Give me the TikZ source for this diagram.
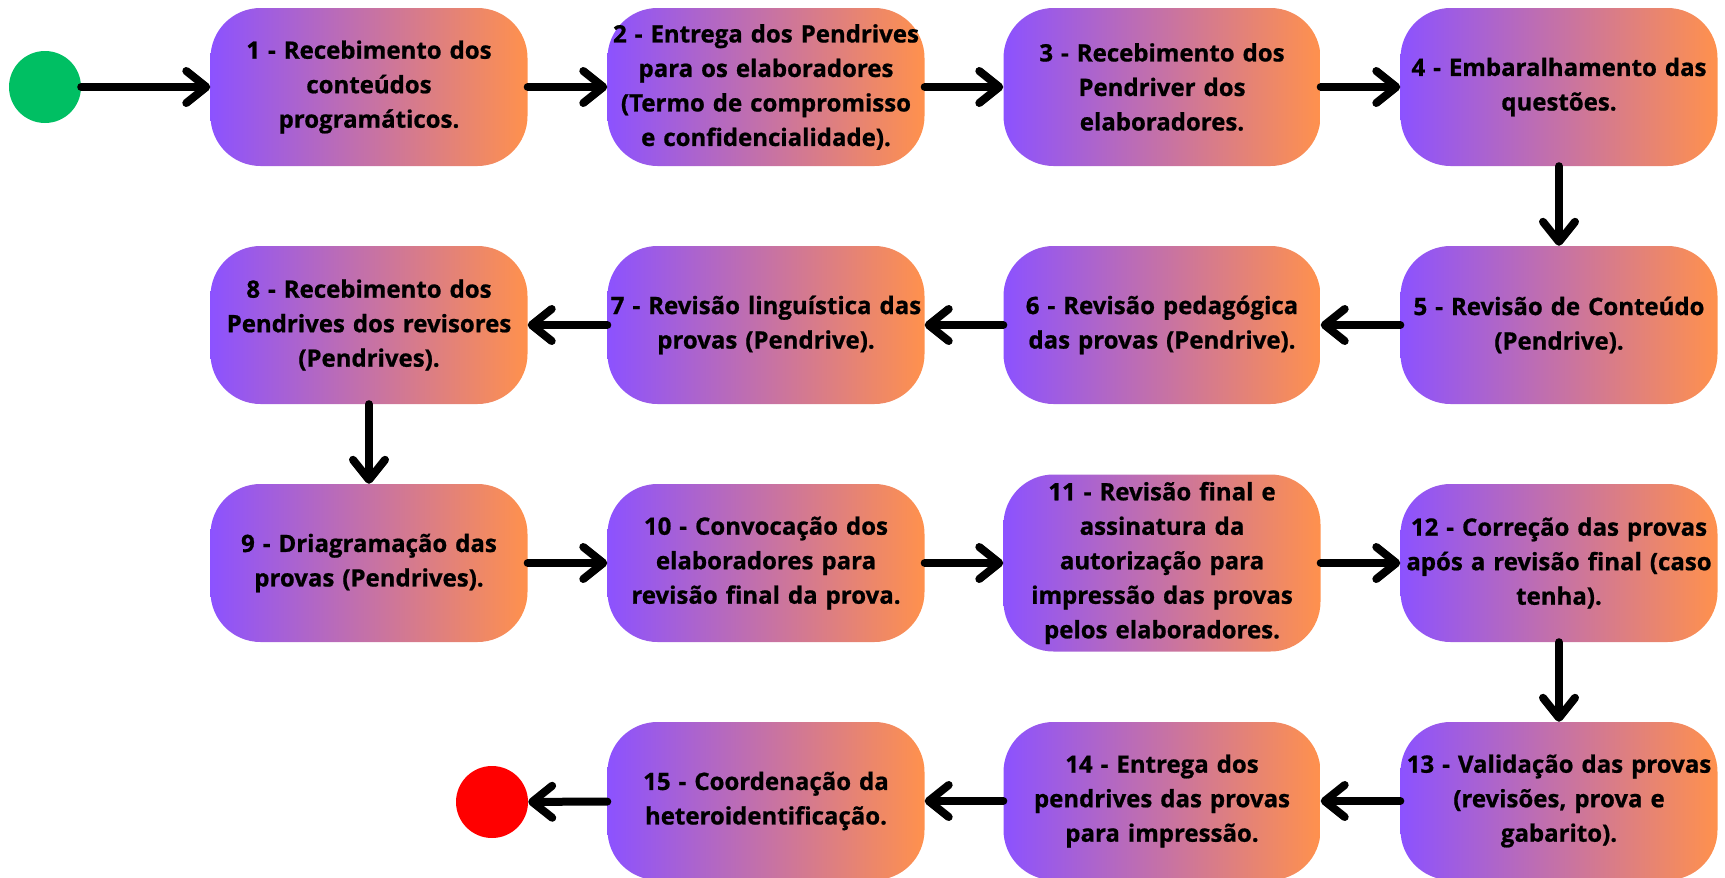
\documentclass[tikz,border=0pt]{standalone}
\usepackage{fontspec}
\setmainfont{Open Sans}[BoldFeatures={FakeBold=0.8}]
\usetikzlibrary{arrows.meta}
\definecolor{purp}{HTML}{8C52FF}
\definecolor{orng}{HTML}{FF914D}
\definecolor{startg}{HTML}{00BF63}
\definecolor{endr}{HTML}{FF0000}
\tikzset{
  stepbox/.style={rounded corners=50pt, left color=purp, right color=orng, draw=none,
    minimum width=317pt, minimum height=158pt, inner sep=0pt, text width=312pt, align=center,
    font=\fontsize{24}{34.5}\selectfont\bfseries},
  flow/.style={line width=8pt, line cap=round, -{Straight Barb[length=20pt,width=32pt,round]}},
  dot/.style={circle, minimum size=72pt, inner sep=0pt, draw=none}
}
\begin{document}
\begin{tikzpicture}[x=1pt,y=-1pt]
\useasboundingbox (0,0) rectangle (1725,878);
\node[dot, fill=startg] (start) at (45,87) {};
\node[stepbox] (n1) at (369,87) {1 - Recebimento dos\\conteúdos\\programáticos.};
\node[stepbox] (n2) at (766,87) {2 - Entrega dos Pendrives\\para os elaboradores\\(Termo de compromisso\\e confidencialidade).};
\node[stepbox] (n3) at (1162,87) {3 - Recebimento dos\\Pendriver dos\\elaboradores.};
\node[stepbox] (n4) at (1559,87) {4 - Embaralhamento das\\questões.};
\node[stepbox] (n5) at (1559,325) {5 - Revisão de Conteúdo\\(Pendrive).};
\node[stepbox] (n6) at (1162,325) {6 - Revisão pedagógica\\das provas (Pendrive).};
\node[stepbox] (n7) at (766,325) {7 - Revisão linguística das\\provas (Pendrive).};
\node[stepbox] (n8) at (369,325) {8 - Recebimento dos\\Pendrives dos revisores\\(Pendrives).};
\node[stepbox] (n9) at (369,563) {9 - Driagramação das\\provas (Pendrives).};
\node[stepbox] (n10) at (766,563) {10 - Convocação dos\\elaboradores para\\revisão final da prova.};
\node[stepbox, minimum height=177pt] (n11) at (1162,563) {11 - Revisão final e\\assinatura da\\autorização para\\impressão das provas\\pelos elaboradores.};
\node[stepbox] (n12) at (1559,563) {12 - Correção das provas\\após a revisão final (caso\\tenha).};
\node[stepbox] (n13) at (1559,801) {13 - Validação das provas\\(revisões, prova e\\gabarito).};
\node[stepbox] (n14) at (1162,801) {14 - Entrega dos\\pendrives das provas\\para impressão.};
\node[stepbox] (n15) at (766,801) {15 - Coordenação da\\heteroidentificação.};
\node[dot, fill=endr] (stop) at (492,802) {};
\draw[flow] (start) -- (n1);
\draw[flow] (n1) -- (n2);
\draw[flow] (n2) -- (n3);
\draw[flow] (n3) -- (n4);
\draw[flow] (n4) -- (n5);
\draw[flow] (n5) -- (n6);
\draw[flow] (n6) -- (n7);
\draw[flow] (n7) -- (n8);
\draw[flow] (n8) -- (n9);
\draw[flow] (n9) -- (n10);
\draw[flow] (n10) -- (n11);
\draw[flow] (n11) -- (n12);
\draw[flow] (n12) -- (n13);
\draw[flow] (n13) -- (n14);
\draw[flow] (n14) -- (n15);
\draw[flow] (n15) -- (stop);
\end{tikzpicture}
\end{document}
